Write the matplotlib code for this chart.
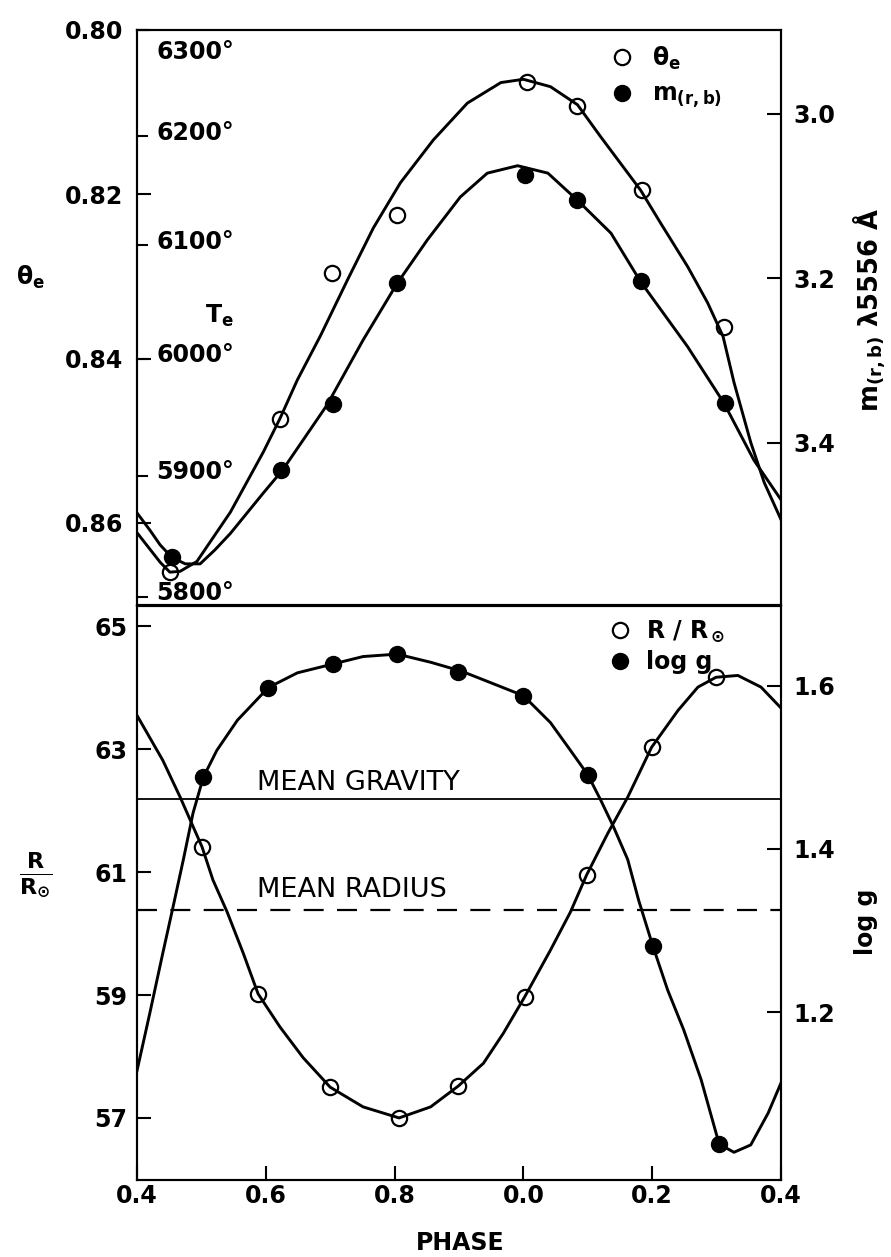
import matplotlib.pyplot as plt
from matplotlib.lines import Line2D
from matplotlib.transforms import blended_transform_factory

plt.rcParams["font.family"] = ["DejaVu Sans"]
plt.rcParams["mathtext.default"] = "regular"

# phase runs 0.4 -> 1.4 (shown as 0.4 ... 0.0 ... 0.4)
phase_ticks = [0.4, 0.6, 0.8, 1.0, 1.2, 1.4]
phase_labels = ["0.4", "0.6", "0.8", "0.0", "0.2", "0.4"]

# top panel: theta_e (open) and m(r,b) (filled)
theta_phase = [0.451, 0.622, 0.703, 0.803, 1.005, 1.084, 1.184, 1.311]
theta_vals = [0.8660, 0.8473, 0.8296, 0.8225, 0.8063, 0.8092, 0.8195, 0.8361]
m_phase = [0.454, 0.624, 0.704, 0.804, 1.003, 1.083, 1.182, 1.313]
m_vals = [3.539, 3.433, 3.353, 3.205, 3.074, 3.105, 3.203, 3.351]

theta_curve_phase = [0.400, 0.420, 0.436, 0.451, 0.467, 0.493, 0.545, 0.596, 0.622,
                     0.649, 0.685, 0.727, 0.767, 0.809, 0.860, 0.913, 0.965, 1.000,
                     1.042, 1.084, 1.120, 1.182, 1.213, 1.255, 1.286, 1.310, 1.327,
                     1.353, 1.374, 1.400]
theta_curve = [0.8612, 0.8632, 0.8648, 0.8660, 0.8659, 0.8647, 0.8587, 0.8514, 0.8473,
               0.8426, 0.8372, 0.8304, 0.8241, 0.8186, 0.8134, 0.8089, 0.8064, 0.8060,
               0.8069, 0.8091, 0.8130, 0.8195, 0.8235, 0.8288, 0.8332, 0.8373, 0.8429,
               0.8502, 0.8551, 0.8596]

m_curve_phase = [0.400, 0.420, 0.436, 0.454, 0.475, 0.498, 0.521, 0.545, 0.596, 0.626,
                 0.695, 0.751, 0.804, 0.851, 0.902, 0.944, 0.991, 1.038, 1.084, 1.136,
                 1.182, 1.255, 1.311, 1.358, 1.400]
m_curve = [3.485, 3.506, 3.524, 3.539, 3.547, 3.547, 3.530, 3.510, 3.461, 3.433,
           3.354, 3.275, 3.206, 3.153, 3.101, 3.072, 3.063, 3.072, 3.105, 3.145,
           3.204, 3.283, 3.351, 3.421, 3.469]

te_marks = [5800, 5900, 6000, 6100, 6200, 6300]

# bottom panel: R/Rsun (open) and log g (filled)
r_phase = [0.501, 0.588, 0.700, 0.807, 0.899, 1.002, 1.098, 1.199, 1.299]
r_vals = [61.41, 59.02, 57.50, 57.00, 57.52, 58.97, 60.95, 63.03, 64.17]
g_phase = [0.503, 0.604, 0.705, 0.804, 0.899, 1.000, 1.100, 1.201, 1.304]
g_vals = [1.488, 1.598, 1.627, 1.639, 1.617, 1.588, 1.491, 1.281, 1.038]

r_curve_phase = [0.400, 0.440, 0.467, 0.501, 0.518, 0.540, 0.565, 0.588, 0.622, 0.658,
                 0.700, 0.751, 0.807, 0.856, 0.899, 0.938, 0.969, 1.002, 1.042, 1.073,
                 1.098, 1.131, 1.162, 1.199, 1.240, 1.271, 1.299, 1.333, 1.369, 1.400]
r_curve = [63.55, 62.82, 62.22, 61.41, 60.87, 60.35, 59.68, 59.02, 58.48, 57.98,
           57.50, 57.18, 57.00, 57.18, 57.52, 57.89, 58.38, 58.97, 59.73, 60.35,
           60.95, 61.63, 62.22, 63.03, 63.63, 64.01, 64.17, 64.20, 64.01, 63.67]

g_curve_phase = [0.400, 0.420, 0.440, 0.456, 0.472, 0.487, 0.503, 0.524, 0.556, 0.604,
                 0.649, 0.705, 0.751, 0.804, 0.856, 0.904, 0.949, 1.000, 1.042, 1.073,
                 1.100, 1.120, 1.140, 1.162, 1.179, 1.201, 1.224, 1.249, 1.276, 1.304,
                 1.327, 1.353, 1.380, 1.400]
g_curve = [1.128, 1.199, 1.272, 1.329, 1.387, 1.444, 1.488, 1.521, 1.558, 1.598,
           1.616, 1.627, 1.636, 1.639, 1.629, 1.618, 1.604, 1.588, 1.555, 1.521,
           1.491, 1.460, 1.427, 1.387, 1.337, 1.281, 1.227, 1.178, 1.117, 1.038,
           1.028, 1.037, 1.076, 1.113]

mean_gravity = 1.461
mean_radius = 60.38

LW = 2.1
SPINE = 1.5
FS = 17

open_style = dict(marker="o", ls="none", mfc="none", mec="black", ms=11, mew=1.6)
fill_style = dict(marker="o", ls="none", mfc="black", mec="black", ms=11.5)


def style_axis(axis):
    for spine in axis.spines.values():
        spine.set_linewidth(SPINE)
    axis.tick_params(direction="in", length=10, width=SPINE, labelsize=FS)
    for label in axis.get_yticklabels() + axis.get_xticklabels():
        label.set_fontweight("bold")


figure = plt.figure(figsize=(8.91, 12.57), dpi=100)

# ---------------- top panel ----------------
ax_top = figure.add_axes([137 / 891, 1 - 605 / 1257, 644 / 891, 575 / 1257])
ax_top_r = ax_top.twinx()

ax_top.plot(theta_curve_phase, theta_curve, color="black", lw=LW)
ax_top.plot(theta_phase, theta_vals, **open_style)
ax_top_r.plot(m_curve_phase, m_curve, color="black", lw=LW)
ax_top_r.plot(m_phase, m_vals, **fill_style)

ax_top.set_xlim(0.4, 1.4)
ax_top.set_ylim(0.870, 0.800)
ax_top_r.set_ylim(3.597, 2.898)
ax_top.set_yticks([0.80, 0.82, 0.84, 0.86])
ax_top.set_yticklabels(["0.80", "0.82", "0.84", "0.86"])
ax_top_r.set_yticks([3.0, 3.2, 3.4])
ax_top_r.set_yticklabels(["3.0", "3.2", "3.4"])
ax_top.set_xticks([])
style_axis(ax_top)
style_axis(ax_top_r)
ax_top.tick_params(axis="y", pad=10)
ax_top_r.tick_params(axis="y", pad=9)

# effective temperature scale inside the left spine
te_trans = blended_transform_factory(ax_top.transAxes, ax_top.transData)
for te in te_marks:
    theta_te = 5040.0 / te
    ax_top.plot([0, 0.016], [theta_te, theta_te], color="black", lw=SPINE,
                transform=te_trans, clip_on=False)
    if te == 6300:
        ax_top.text(0.03, theta_te + 0.0012, f"{te}°", transform=te_trans,
                    fontsize=FS, fontweight="semibold", va="top", ha="left")
    else:
        ax_top.text(0.03, theta_te - 0.0004, f"{te}°", transform=te_trans,
                    fontsize=FS, fontweight="semibold", va="center", ha="left")
ax_top.text(0.128, 0.503, "T$_e$", transform=ax_top.transAxes, fontsize=FS,
            fontweight="bold", ha="center", va="center")

top_handles = [Line2D([], [], **open_style), Line2D([], [], **fill_style)]
ax_top_r.legend(top_handles, ["θ$_e$", "m$_{(r,b)}$"], loc="upper left",
                bbox_to_anchor=(0.734, 0.975), frameon=False,
                handlelength=1.0, handletextpad=0.8, labelspacing=0.45,
                borderpad=0, borderaxespad=0,
                prop={"weight": "bold", "size": FS})

# ---------------- bottom panel ----------------
ax_bot = figure.add_axes([137 / 891, 1 - 1180 / 1257, 644 / 891, 574 / 1257])
ax_bot_r = ax_bot.twinx()

ax_bot.plot(r_curve_phase, r_curve, color="black", lw=LW)
ax_bot.plot(r_phase, r_vals, **open_style)
ax_bot_r.plot(g_curve_phase, g_curve, color="black", lw=LW)
ax_bot_r.plot(g_phase, g_vals, **fill_style)

ax_bot_r.axhline(mean_gravity, color="black", lw=1.3)
ax_bot.axhline(mean_radius, color="black", lw=1.6, dashes=(9, 6))
label_trans = blended_transform_factory(ax_bot.transAxes, ax_bot.transData)
ax_bot.text(0.186, 62.45, "MEAN GRAVITY", fontsize=19.5, transform=label_trans,
            ha="left", va="center")
ax_bot.text(0.186, 60.71, "MEAN RADIUS", fontsize=19.5, transform=label_trans,
            ha="left", va="center")

ax_bot.set_xlim(0.4, 1.4)
ax_bot.set_ylim(55.99, 65.33)
ax_bot_r.set_ylim(0.994, 1.698)
ax_bot.set_yticks([57, 59, 61, 63, 65])
ax_bot.set_yticklabels(["57", "59", "61", "63", "65"])
ax_bot_r.set_yticks([1.2, 1.4, 1.6])
ax_bot_r.set_yticklabels(["1.2", "1.4", "1.6"])
ax_bot.set_xticks(phase_ticks)
ax_bot.set_xticklabels(phase_labels)
style_axis(ax_bot)
style_axis(ax_bot_r)
ax_bot.tick_params(axis="y", pad=7)
ax_bot.tick_params(axis="x", pad=3)
ax_bot_r.tick_params(axis="y", pad=9)

bot_handles = [Line2D([], [], **open_style), Line2D([], [], **fill_style)]
ax_bot_r.legend(bot_handles, ["R / R$_\\odot$", "log g"], loc="upper left",
                bbox_to_anchor=(0.731, 0.978), frameon=False,
                handlelength=1.0, handletextpad=0.6, labelspacing=0.25,
                borderpad=0, borderaxespad=0,
                prop={"weight": "bold", "size": FS})

# ---------------- outer labels ----------------
figure.text(30 / 891, 1 - 277 / 1257, "θ$_e$", fontsize=FS, fontweight="bold",
            ha="center", va="center")
figure.text(870 / 891, 1 - 310 / 1257, "m$_{(r,b)}$ λ5556 Å", fontsize=18.5,
            fontweight="bold", rotation=90, ha="center", va="center")
figure.text(36 / 891, 1 - 875 / 1257, "$\\frac{R}{R_{\\odot}}$", fontsize=FS + 6,
            fontweight="bold", ha="center", va="center")
figure.text(866 / 891, 1 - 922 / 1257, "log g", fontsize=FS, fontweight="bold",
            rotation=90, ha="center", va="center")
figure.text(460 / 891, 1 - 1243 / 1257, "PHASE", fontsize=FS, fontweight="bold",
            ha="center", va="center")

figure.savefig("out.png", dpi=100)
plt.close(figure)
